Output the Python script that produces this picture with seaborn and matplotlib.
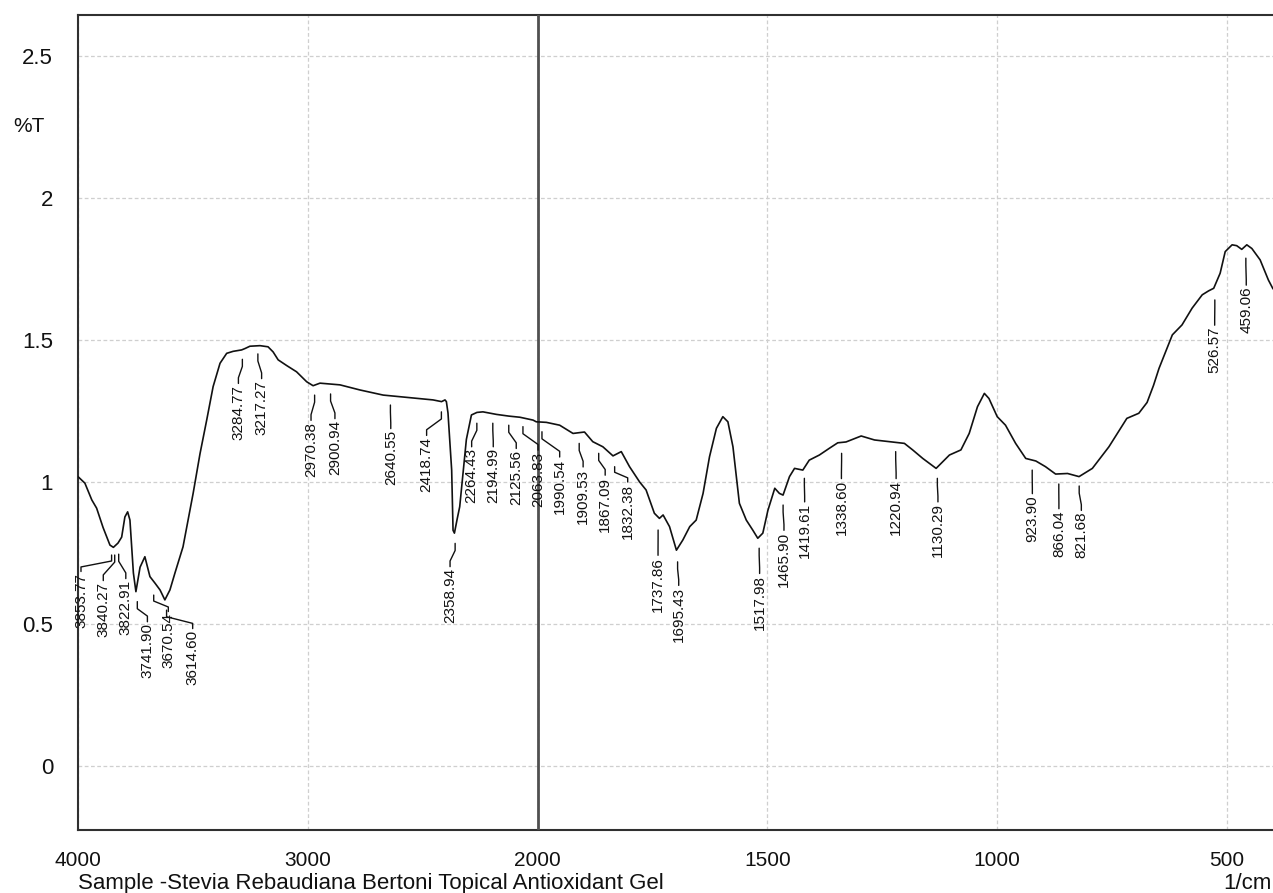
import numpy as np
import pandas as pd
import matplotlib
matplotlib.use('Agg')
import matplotlib.pyplot as plt
import seaborn as sns

# ================================================
# FTIR spectrum - Stevia Rebaudiana Bertoni topical gel
# ================================================

# wavenumber (1/cm) and transmittance (%T)
wavenumber = [4000, 3970, 3940, 3919, 3891, 3861, 3846, 3826, 3810, 3796,
              3784, 3774, 3759, 3748, 3730, 3709, 3687, 3665, 3643, 3622,
              3600, 3578, 3543, 3499, 3469, 3440, 3412, 3382, 3353, 3325,
              3288, 3273, 3252, 3208, 3173, 3151, 3129, 3092, 3049, 3005,
              2977, 2947, 2903, 2860, 2773, 2672, 2542, 2455, 2418, 2403,
              2397, 2390, 2374, 2368, 2362, 2350, 2339, 2310, 2288, 2264,
              2238, 2179, 2125, 2077, 2020, 2006, 1981, 1952, 1923, 1898,
              1880, 1858, 1836, 1818, 1800, 1778, 1764, 1746, 1735, 1727,
              1713, 1698, 1684, 1669, 1655, 1640, 1626, 1611, 1597, 1586,
              1575, 1561, 1546, 1532, 1521, 1510, 1499, 1484, 1474, 1466,
              1452, 1441, 1423, 1409, 1387, 1365, 1347, 1329, 1296, 1267,
              1234, 1202, 1184, 1162, 1133, 1104, 1079, 1061, 1043, 1028,
              1018, 1000, 982, 960, 938, 916, 895, 873, 847, 822,
              793, 757, 718, 692, 674, 660, 648, 619, 598, 576,
              554, 540, 529, 515, 504, 489, 479, 468, 457, 446,
              428, 410, 400]
transmittance = [1.019, 0.996, 0.937, 0.908, 0.840, 0.778, 0.770, 0.785, 0.806, 0.877,
                 0.895, 0.866, 0.680, 0.614, 0.700, 0.737, 0.667, 0.644, 0.620, 0.585,
                 0.620, 0.680, 0.772, 0.960, 1.100, 1.218, 1.336, 1.418, 1.453, 1.460,
                 1.465, 1.470, 1.478, 1.480, 1.476, 1.458, 1.430, 1.410, 1.388, 1.353,
                 1.339, 1.348, 1.345, 1.342, 1.324, 1.306, 1.296, 1.289, 1.283, 1.289,
                 1.283, 1.243, 1.042, 0.830, 0.820, 0.870, 0.913, 1.150, 1.236, 1.245,
                 1.247, 1.238, 1.232, 1.228, 1.218, 1.212, 1.210, 1.200, 1.171, 1.176,
                 1.142, 1.124, 1.092, 1.107, 1.054, 1.000, 0.972, 0.890, 0.872, 0.884,
                 0.843, 0.760, 0.796, 0.843, 0.866, 0.960, 1.089, 1.189, 1.230, 1.212,
                 1.124, 0.925, 0.866, 0.831, 0.802, 0.820, 0.900, 0.978, 0.960, 0.954,
                 1.019, 1.048, 1.042, 1.077, 1.095, 1.119, 1.138, 1.141, 1.162, 1.148,
                 1.142, 1.136, 1.113, 1.083, 1.048, 1.095, 1.113, 1.171, 1.265, 1.312,
                 1.294, 1.230, 1.200, 1.136, 1.083, 1.074, 1.054, 1.028, 1.030, 1.019,
                 1.048, 1.124, 1.224, 1.242, 1.280, 1.340, 1.400, 1.518, 1.553, 1.612,
                 1.659, 1.673, 1.682, 1.735, 1.811, 1.835, 1.832, 1.819, 1.835, 1.822,
                 1.782, 1.711, 1.680]

# peak labels
peak_labels = [3853.77, 3840.27, 3822.91, 3741.90, 3670.54, 3614.60, 3284.77,
               3217.27, 2970.38, 2900.94, 2640.55, 2418.74, 2358.94, 2264.43,
               2194.99, 2125.56, 2063.83, 1990.54, 1909.53, 1867.09, 1832.38,
               1737.86, 1695.43, 1517.98, 1465.90, 1419.61, 1338.60, 1220.94,
               1130.29, 923.90, 866.04, 821.68, 526.57, 459.06]

# label layout: text x (1/cm), leader start y and text top y (%T)
label_text_x = [3987, 3890, 3792, 3698, 3607, 3501, 3302,
                3201, 2986, 2882, 2639, 2483, 2381, 2287,
                2193, 2093, 1999, 1952, 1901, 1853, 1804,
                1738, 1693, 1517, 1464, 1419, 1339, 1220,
                1129, 923.6, 865.8, 817, 526.9, 458.2]
label_line_y = [0.743, 0.743, 0.746, 0.579, 0.602, 0.549, 1.432,
                1.451, 1.306, 1.310, 1.271, 1.247, 0.784, 1.207,
                1.207, 1.200, 1.195, 1.177, 1.136, 1.101, 1.054,
                0.831, 0.719, 0.767, 0.919, 1.013, 1.101, 1.107,
                1.013, 1.042, 0.993, 0.986, 1.641, 1.788]
label_text_y = [0.680, 0.648, 0.655, 0.503, 0.539, 0.479, 1.342,
                1.359, 1.212, 1.218, 1.183, 1.159, 0.697, 1.119,
                1.119, 1.113, 1.107, 1.083, 1.048, 1.019, 0.995,
                0.737, 0.631, 0.673, 0.825, 0.925, 1.007, 1.007,
                0.925, 0.954, 0.901, 0.895, 1.547, 1.688]

df = pd.DataFrame({'WAVENUMBER': wavenumber, 'T': transmittance})

sns.set_style('white')
plt.rcParams['font.family'] = ['Liberation Sans', 'DejaVu Sans']

W, H = 1273, 893
fig = plt.figure(figsize=(W / 100, H / 100), dpi=100)
ax = fig.add_axes([78 / W, (H - 830) / H, (W - 78) / W, (830 - 15) / H])


# scale: 4000-2000 compressed, 2000-400 expanded twice
def fwd(x):
    x = np.asarray(x, dtype=float)
    return np.where(x >= 2000, x, 2 * x - 2000)


def inv(u):
    u = np.asarray(u, dtype=float)
    return np.where(u >= 2000, u, (u + 2000) / 2)


ax.set_xscale('function', functions=(fwd, inv))

sns.lineplot(data=df, x='WAVENUMBER', y='T', sort=False, color='#111111',
             linewidth=1.2, ax=ax, zorder=4)

ax.set_xlim(4000, 400)
ax.set_ylim(-0.225, 2.644)

ax.set_xticks([4000, 3000, 2000, 1500, 1000, 500])
ax.set_xticklabels(['4000', '3000', '2000', '1500', '1000', '500'])
minor_x = [w for w in range(3800, 2000, -200)] + \
          [w for w in range(1900, 399, -100) if w % 500 != 0]
ax.set_xticks(minor_x, minor=True)
ax.set_yticks([0, 0.5, 1, 1.5, 2, 2.5])
ax.set_yticklabels(['0', '0.5', '1', '1.5', '2', '2.5'])
ax.set_yticks(np.round(np.arange(-0.2, 2.65, 0.1), 2), minor=True)

ax.tick_params(axis='x', which='major', direction='out', length=12,
               width=1.3, color='#404040', labelsize=15, labelcolor='#111111',
               pad=3)
ax.tick_params(axis='y', which='major', direction='out', length=14,
               width=1.3, color='#404040', labelsize=16, labelcolor='#111111',
               pad=4)
ax.tick_params(axis='both', which='minor', direction='out', length=7,
               width=1.3, color='#404040')

ax.grid(True, which='major', color='#cfcfcf', linestyle=(0, (3, 2)),
        linewidth=0.9)
ax.axvline(2000, color='#505050', linewidth=2.0, zorder=3)

for side in ['left', 'bottom', 'top']:
    ax.spines[side].set_color('#303030')
    ax.spines[side].set_linewidth(1.5)
ax.spines['right'].set_visible(False)

ax.set_xlabel('')
ax.set_ylabel('')

# peak labels with leader lines
stub = 0.025
for val, tx, ly, ty in zip(peak_labels, label_text_x, label_line_y, label_text_y):
    s = min(stub, (ly - ty) / 3)
    ax.plot([val, val, tx, tx], [ly, ly - s, ty + s, ty + 0.005],
            color='#111111', linewidth=1.0, zorder=5)
    ax.text(tx, ty, f'{val:.2f}', rotation=90, ha='center', va='top',
            fontsize=11, color='#111111', zorder=6)

fig.text(29 / W, 1 - 127 / H, '%T', ha='center', va='center',
         fontsize=15, color='#111111')
fig.text(78 / W, (H - 889) / H,
         'Sample -Stevia Rebaudiana Bertoni Topical Antioxidant Gel',
         ha='left', va='baseline', fontsize=16, color='#111111')
fig.text(1272 / W, (H - 889) / H, '1/cm', ha='right', va='baseline',
         fontsize=16, color='#111111')

plt.savefig('out.png', dpi=100)
print("Chart saved.")
